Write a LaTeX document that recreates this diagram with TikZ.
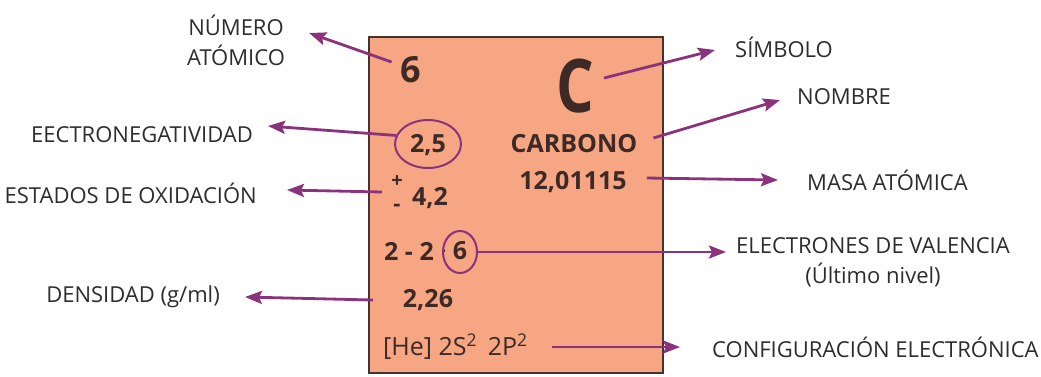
\documentclass[tikz,border=0pt]{standalone}
\usepackage{fontspec}
\setmainfont{Open Sans}
\usetikzlibrary{positioning, shapes.geometric, arrows.meta, calc}
\definecolor{mysalmon}{RGB}{246,166,131}
\definecolor{myborder}{RGB}{70,50,45}
\definecolor{mypurple}{RGB}{139,50,125}
\definecolor{mytext}{RGB}{61,42,38}
\definecolor{mylabel}{RGB}{45,45,45}

\tikzset{
  dato/.style={inner sep=0pt, text=mytext, font=\bfseries\fontsize{25}{25}\selectfont},
  etiqueta/.style={inner sep=0pt, text=mylabel, font=\fontsize{22}{30}\selectfont},
  flecha/.style={draw=mypurple, line width=2.8pt, -{Stealth[length=17pt, width=13pt, inset=3pt]}},
  ovalo/.style={draw=mypurple, line width=2pt, ellipse, inner sep=0pt}
}

\begin{document}
\begin{tikzpicture}[x=1pt, y=-1pt]
            \useasboundingbox (0,0) rectangle (1041,376);

            % ficha del elemento
            \filldraw[fill=mysalmon, draw=myborder, line width=2.5pt] (369,37) rectangle (663,373);

            \node[dato, font=\bfseries\fontsize{36}{36}\selectfont] (num) at (411,70) {6};
            \node[dato, font=\bfseries\fontsize{74}{74}\selectfont, xscale=0.8] (sim) at (575,86) {C};
            \node[dato] (nom) at (574,144) {CARBONO};
            \node[dato] (masa) at (573,182) {12,01115};
            \node[dato] (eneg) at (428,145) {2,5};
            \node[ovalo, minimum width=66pt, minimum height=48pt] (enegc) at (428,144) {};
            \node[dato, font=\bfseries\fontsize{20}{20}\selectfont] (mas) at (397,182) {+};
            \node[dato, font=\bfseries\fontsize{22}{22}\selectfont] (menos) at (397,208) {-};
            \node[dato] (ox) at (430,198) {4,2};
            \node[dato] (capas) at (409,251) {2 - 2};
            \node[dato] (punto) at (444,252) {$\cdot$};
            \node[dato] (val) at (460,251) {6};
            \node[ovalo, minimum width=34pt, minimum height=42pt] (valc) at (460,252) {};
            \node[dato] (dens) at (428,300) {2,26};
            \node[dato, font=\fontsize{25}{25}\selectfont, anchor=west] (econf) at (383,347) {[He] 2S\textsuperscript{2}\, 2P\textsuperscript{2}};

            % etiquetas
            \node[etiqueta, align=center] (lblnum) at (236,40) {NÚMERO\\ATÓMICO};
            \node[etiqueta, anchor=east] (lbleneg) at (253,135) {EECTRONEGATIVIDAD};
            \node[etiqueta, anchor=east] (lblox) at (257,193) {ESTADOS DE OXIDACIÓN};
            \node[etiqueta, anchor=east] (lbldens) at (220,297) {DENSIDAD (g/ml)};
            \node[etiqueta, anchor=west] (lblsim) at (735,47) {SÍMBOLO};
            \node[etiqueta, anchor=west] (lblnom) at (797,97) {NOMBRE};
            \node[etiqueta, anchor=west] (lblmasa) at (807,180) {MASA ATÓMICA};
            \node[etiqueta, align=center] (lblval) at (873,262) {ELECTRONES DE VALENCIA\\(Último nivel)};
            \node[etiqueta, anchor=west] (lblconf) at (712,347) {CONFIGURACIÓN ELECTRÓNICA};

            % flechas
            \draw[flecha] ([shift={(-9,-8)}]num.west) -- ([shift={(24,-7)}]lblnum.east);
            \draw[flecha] (enegc.165) -- ([shift={(15,-9)}]lbleneg.east);
            \draw[flecha] ([shift={(-30,-6)}]ox.west) -- ([shift={(30,-3)}]lblox.east);
            \draw[flecha] ([xshift=-30]dens.west) -- ([xshift=25]lbldens.east);
            \draw[flecha] ([shift={(10,-8)}]sim.east) -- ([shift={(-20,3)}]lblsim.west);
            \draw[flecha] ([shift={(16,-6)}]nom.east) -- ([shift={(-17,3)}]lblnom.west);
            \draw[flecha] ([shift={(20,-4)}]masa.east) -- ([xshift=-29]lblmasa.west);
            \draw[flecha] (valc.east) -- ([shift={(-10,-10)}]lblval.west);
            \draw[flecha] ([xshift=24]econf.east) -- ([xshift=-32]lblconf.west);
\end{tikzpicture}
\end{document}
